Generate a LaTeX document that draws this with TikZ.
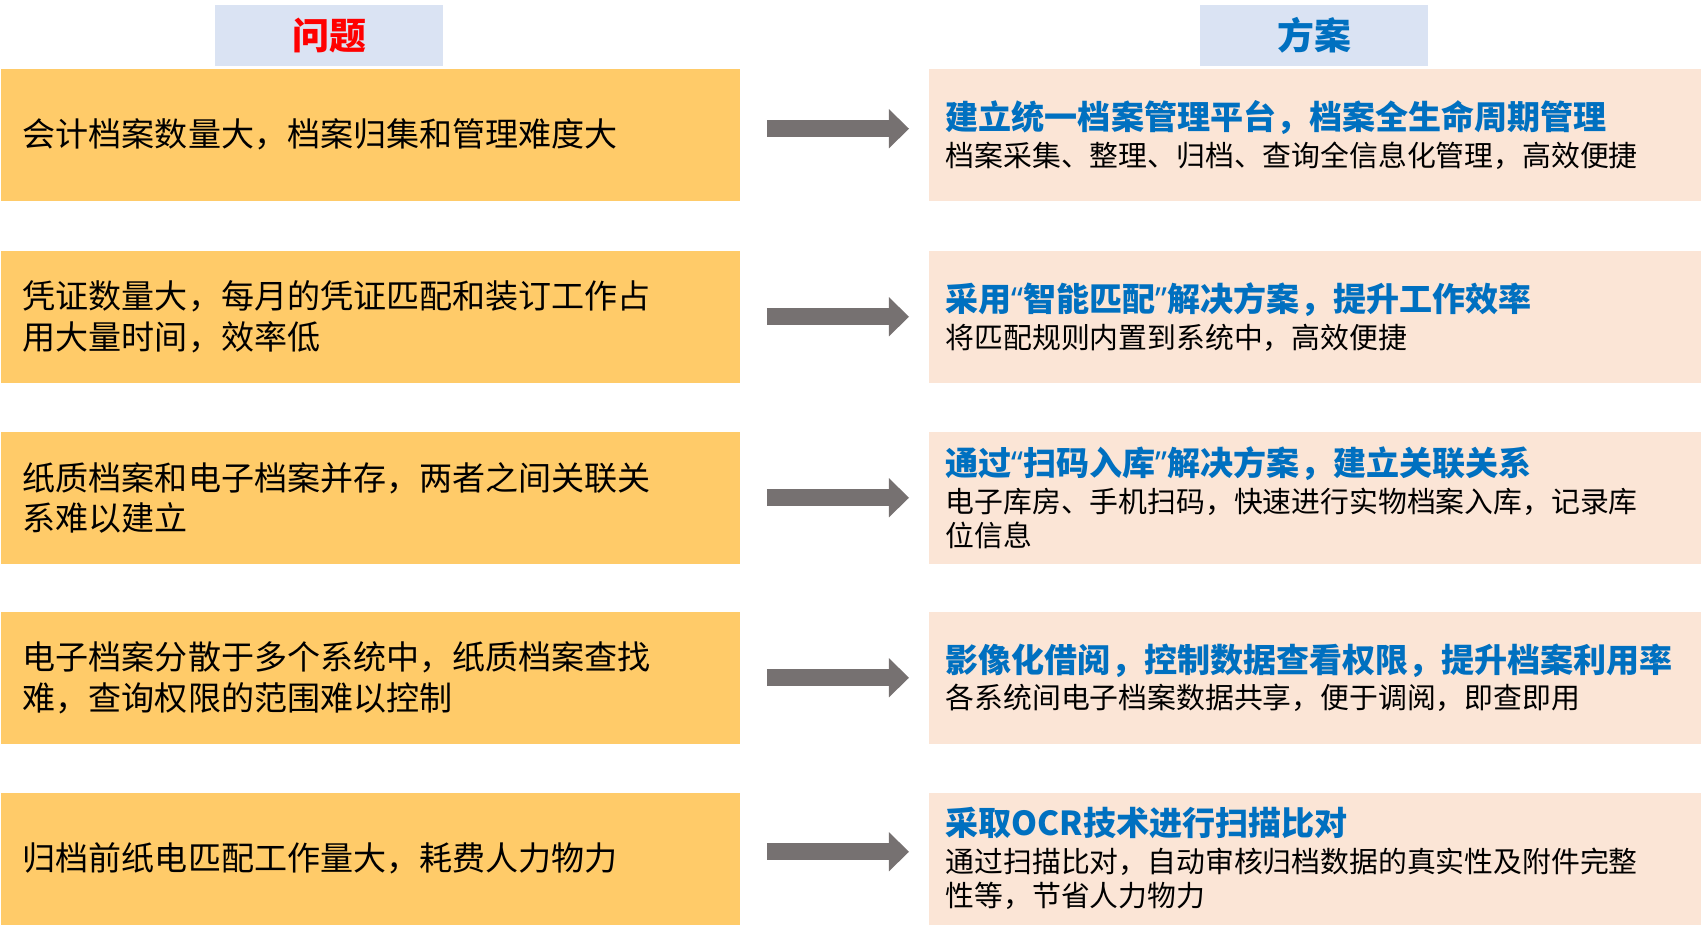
\documentclass[tikz,border=0pt]{standalone}
\usepackage{fontspec}
\setmainfont{Noto Sans CJK SC}
\newfontfamily\quotefont{Noto Sans}
\usetikzlibrary{arrows.meta}
\definecolor{probfill}{HTML}{FFCB69}
\definecolor{solfill}{HTML}{FBE5D6}
\definecolor{headfill}{HTML}{DAE3F3}
\definecolor{solblue}{HTML}{0070C0}
\definecolor{arrowgray}{HTML}{767171}
\newcommand{\soltitle}[1]{{\color{solblue}\bfseries\fontsize{9.4}{9.7}\selectfont #1}}
\newcommand{\openq}{{\quotefont “}}
\newcommand{\closeq}{{\quotefont ”}}
\tikzset{
  headbox/.style={fill=headfill, minimum width=2.28cm, minimum height=0.61cm, inner sep=0pt, font=\fontsize{10.5}{12}\selectfont\bfseries},
  probbox/.style={fill=probfill, anchor=north west, minimum height=1.32cm, text width=6.95cm, inner xsep=0.22cm, inner ysep=0pt, align=left, font=\fontsize{9.4}{11.4}\selectfont},
  solbox/.style={fill=solfill, anchor=north west, minimum height=1.32cm, text width=7.39cm, inner xsep=0.17cm, inner ysep=0pt, align=left, font=\fontsize{8.2}{9.7}\selectfont},
  flow/.style={draw=arrowgray, line width=0.17cm, -{Triangle[length=0.2cm,width=0.39cm,line width=0pt]}, shorten <=0.26cm, shorten >=0.19cm}
}
\begin{document}
\begin{tikzpicture}[x=0.01cm, y=-0.01cm]
  \useasboundingbox (0,0) rectangle (1701,933);
  \node (hprob) [headbox, text=red] at (329,35.5) {问题};
  \node (hsol) [headbox, text=solblue] at (1314,35.5) {方案};

  \node (p1) [probbox] at (0,68) {会计档案数量大，档案归集和管理难度大};
  \node (s1) [solbox] at (928,68) {\soltitle{建立统一档案管理平台，档案全生命周期管理}\\[0.8pt]档案采集、整理、归档、查询全信息化管理，高效便捷};

  \node (p2) [probbox] at (0,250) {凭证数量大，每月的凭证匹配和装订工作占\\用大量时间，效率低};
  \node (s2) [solbox] at (928,250) {\soltitle{采用\openq 智能匹配\closeq 解决方案，提升工作效率}\\[0.8pt]将匹配规则内置到系统中，高效便捷};

  \node (p3) [probbox] at (0,431) {纸质档案和电子档案并存，两者之间关联关\\系难以建立};
  \node (s3) [solbox] at (928,431) {\soltitle{通过\openq 扫码入库\closeq 解决方案，建立关联关系}\\[0.8pt]电子库房、手机扫码，快速进行实物档案入库，记录库\\位信息};

  \node (p4) [probbox] at (0,611) {电子档案分散于多个系统中，纸质档案查找\\难，查询权限的范围难以控制};
  \node (s4) [solbox] at (928,611) {\soltitle{影像化借阅，控制数据查看权限，提升档案利用率}\\[0.8pt]各系统间电子档案数据共享，便于调阅，即查即用};

  \node (p5) [probbox] at (0,792) {归档前纸电匹配工作量大，耗费人力物力};
  \node (s5) [solbox] at (928,792) {\soltitle{采取OCR技术进行扫描比对}\\[0.8pt]通过扫描比对，自动审核归档数据的真实性及附件完整\\性等，节省人力物力};

  \draw[flow] ([yshift=0.06cm]p1.east) -- ([yshift=0.06cm]s1.west);
  \draw[flow] (p2) -- (s2);
  \draw[flow] (p3) -- (s3);
  \draw[flow] (p4) -- (s4);
  \draw[flow] ([yshift=0.07cm]p5.east) -- ([yshift=0.07cm]s5.west);
\end{tikzpicture}
\end{document}
